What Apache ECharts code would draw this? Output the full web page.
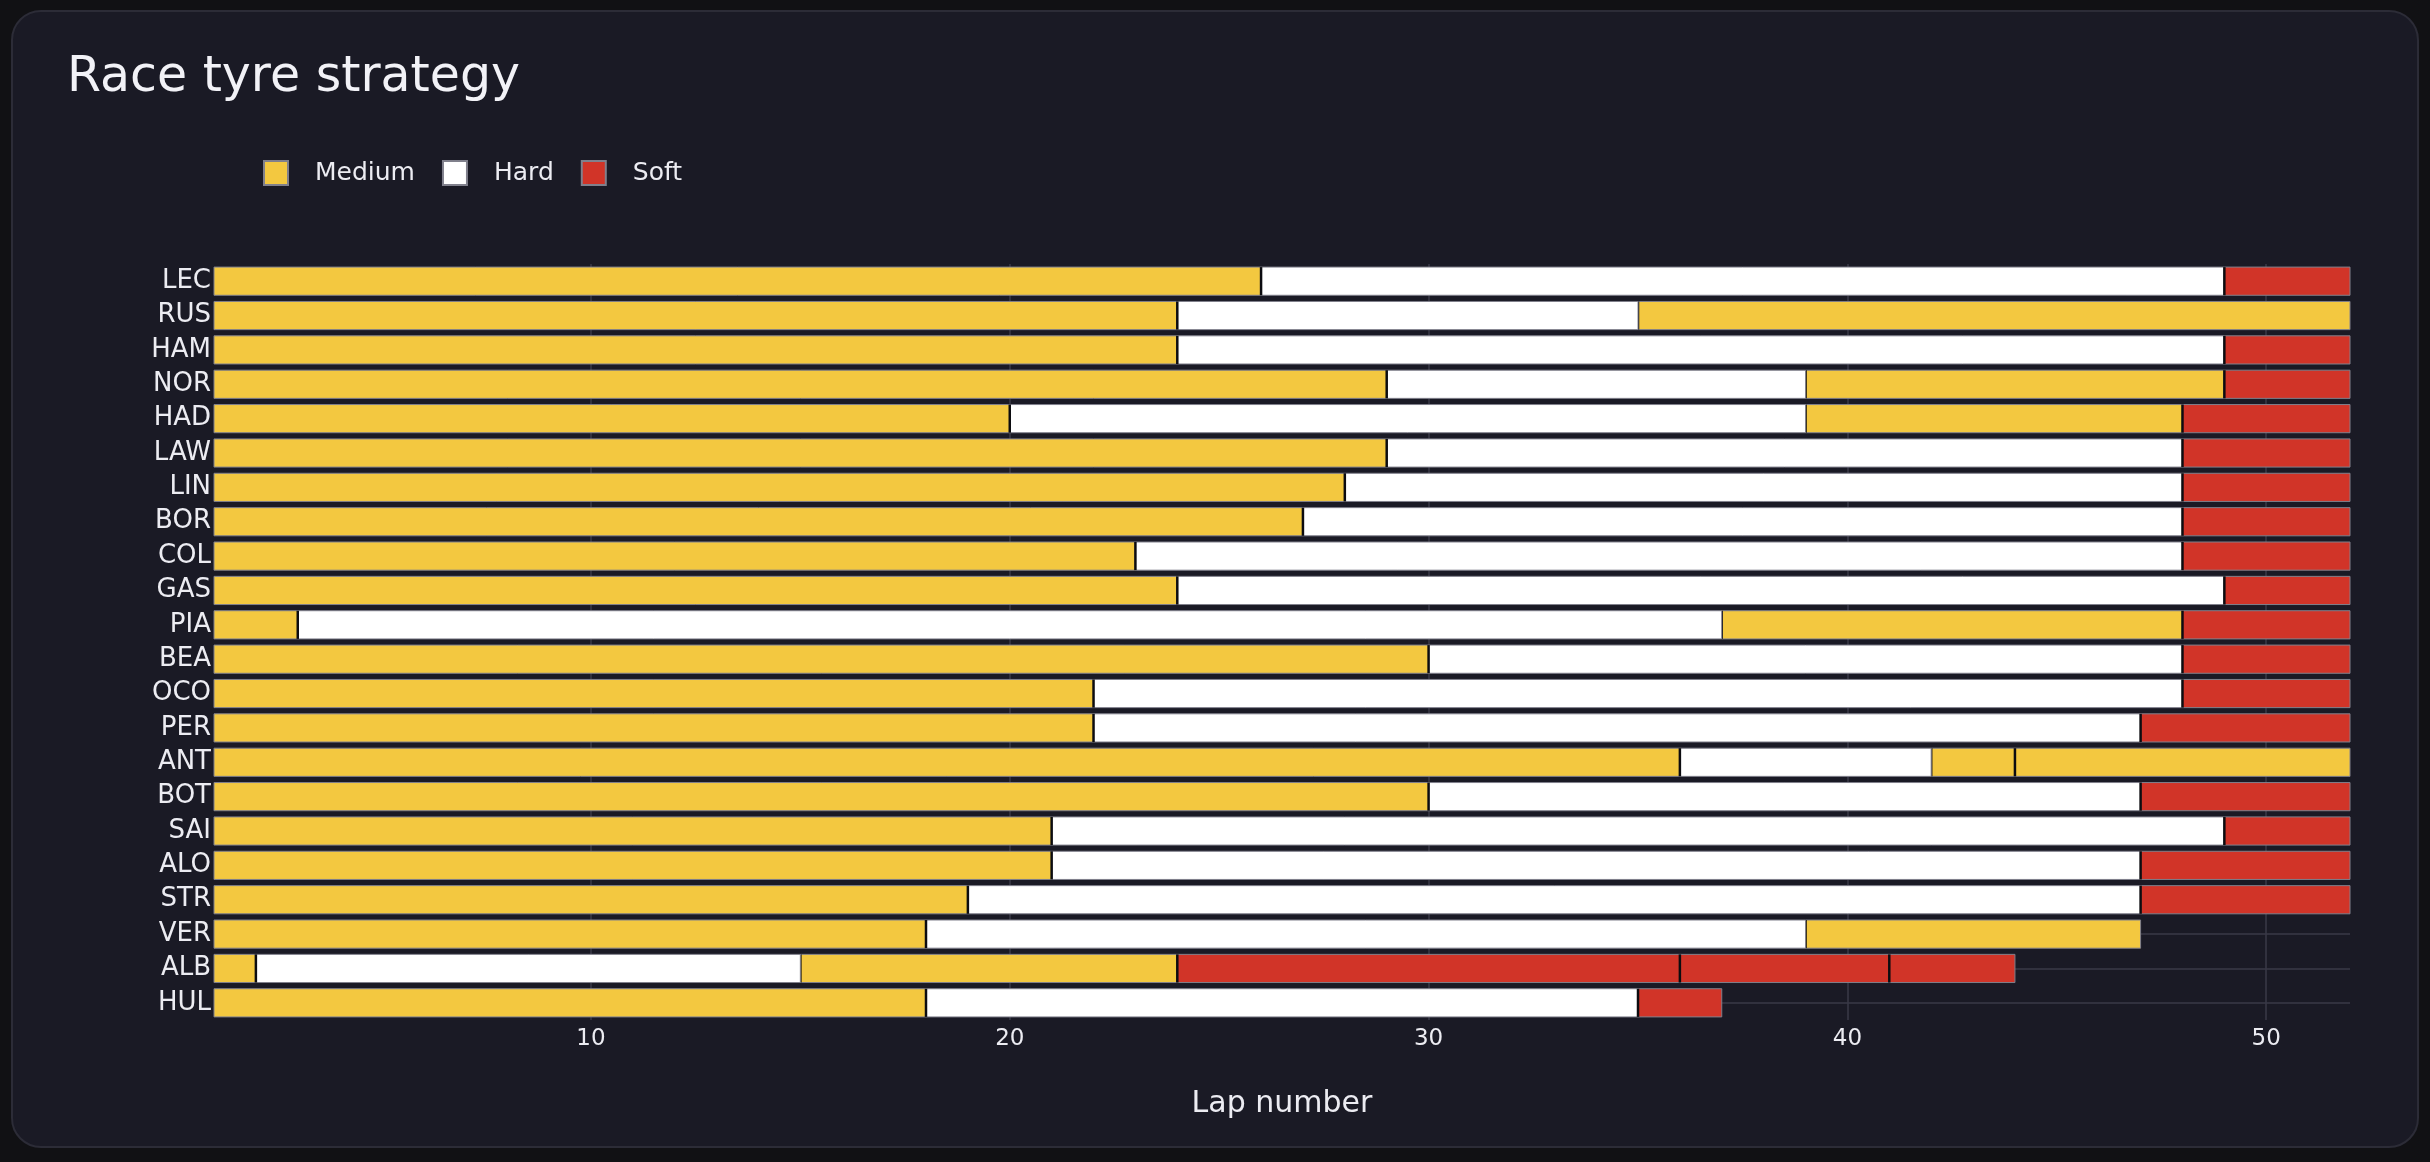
<!DOCTYPE html>
<html>
<head>
<meta charset="utf-8">
<title>Race tyre strategy</title>
<script src="https://cdn.jsdelivr.net/npm/echarts@6/dist/echarts.min.js"></script>
<style>
  html, body { margin: 0; padding: 0; background: #111114; }
  #card {
    position: absolute; left: 11px; top: 10px; width: 2404px; height: 1134px;
    background: #1a1a25; border: 2px solid #2c2c37; border-radius: 30px;
  }
  #chart { position: absolute; left: 0; top: 0; width: 2430px; height: 1162px; }
</style>
</head>
<body>
<div id="card"></div>
<div id="chart"></div>
<script>
// drivers top to bottom (finishing order)
const drivers = ['LEC', 'RUS', 'HAM', 'NOR', 'HAD', 'LAW', 'LIN', 'BOR', 'COL', 'GAS', 'PIA',
  'BEA', 'OCO', 'PER', 'ANT', 'BOT', 'SAI', 'ALO', 'STR', 'VER', 'ALB', 'HUL'];

// compound of each stint, M = medium, H = hard, S = soft
const stintCompounds = [
  ['M', 'H', 'S'],
  ['M', 'H', 'M'],
  ['M', 'H', 'S'],
  ['M', 'H', 'M', 'S'],
  ['M', 'H', 'M', 'S'],
  ['M', 'H', 'S'],
  ['M', 'H', 'S'],
  ['M', 'H', 'S'],
  ['M', 'H', 'S'],
  ['M', 'H', 'S'],
  ['M', 'H', 'M', 'S'],
  ['M', 'H', 'S'],
  ['M', 'H', 'S'],
  ['M', 'H', 'S'],
  ['M', 'H', 'M', 'M'],
  ['M', 'H', 'S'],
  ['M', 'H', 'S'],
  ['M', 'H', 'S'],
  ['M', 'H', 'S'],
  ['M', 'H', 'M'],
  ['M', 'H', 'M', 'S', 'S', 'S'],
  ['M', 'H', 'S']
];

// lap on which each stint ends
const stintEnds = [
  [26, 49, 52],
  [24, 35, 52],
  [24, 49, 52],
  [29, 39, 49, 52],
  [20, 39, 48, 52],
  [29, 48, 52],
  [28, 48, 52],
  [27, 48, 52],
  [23, 48, 52],
  [24, 49, 52],
  [3, 37, 48, 52],
  [30, 48, 52],
  [22, 48, 52],
  [22, 47, 52],
  [36, 42, 44, 52],
  [30, 47, 52],
  [21, 49, 52],
  [21, 47, 52],
  [19, 47, 52],
  [18, 39, 47],
  [2, 15, 24, 36, 41, 44],
  [18, 35, 37]
];

const firstLap = 1;
const lastLap = 52;

const compounds = [
  { code: 'M', name: 'Medium', color: '#f3c840' },
  { code: 'H', name: 'Hard', color: '#ffffff' },
  { code: 'S', name: 'Soft', color: '#d13428' }
];

const textColor = '#ececf2';
const fontFamily = '"DejaVu Sans", sans-serif';

// [driverIndex, startLap, endLap] per compound
function stintsFor(code) {
  const out = [];
  drivers.forEach(function (d, i) {
    let start = firstLap;
    stintCompounds[i].forEach(function (c, j) {
      const end = stintEnds[i][j];
      if (c === code) out.push([i, start, end]);
      start = end;
    });
  });
  return out;
}

function renderStint(params, api) {
  const cat = api.value(0);
  const start = api.value(1);
  const end = api.value(2);
  const p0 = api.coord([start, cat]);
  const p1 = api.coord([end, cat]);
  const h = api.size([0, 1])[1] * 0.82;
  const children = [{
    type: 'rect',
    shape: { x: p0[0], y: p0[1] - h / 2, width: p1[0] - p0[0], height: h },
    style: { fill: api.visual('color'), stroke: '#80808c', lineWidth: 1 }
  }];
  if (start > firstLap) {
    children.push({
      type: 'line',
      shape: { x1: p0[0], y1: p0[1] - h / 2, x2: p0[0], y2: p0[1] + h / 2 },
      style: { stroke: '#0c0c10', lineWidth: 2.5 }
    });
  }
  return { type: 'group', children: children };
}

const chart = echarts.init(document.getElementById('chart'));

chart.setOption({
  backgroundColor: 'transparent',
  animation: false,
  title: {
    text: 'Race tyre strategy',
    left: 62,
    top: 49,
    textStyle: { color: '#f2f2f7', fontSize: 49, fontWeight: 'normal', fontFamily: fontFamily }
  },
  legend: {
    left: 258,
    top: 155,
    icon: 'rect',
    itemWidth: 24,
    itemHeight: 24,
    itemGap: 27,
    textStyle: { color: textColor, fontSize: 25, fontFamily: fontFamily, padding: [0, 0, 0, 22] },
    data: compounds.map(function (c) { return c.name; })
  },
  grid: { left: 214, right: 80, top: 264, bottom: 142 },
  xAxis: {
    type: 'value',
    min: firstLap,
    max: lastLap,
    name: 'Lap number',
    nameLocation: 'middle',
    nameGap: 69,
    nameTextStyle: { color: textColor, fontSize: 30, fontFamily: fontFamily },
    axisLine: { show: false },
    axisTick: { show: false },
    axisLabel: {
      color: textColor, fontSize: 23, fontFamily: fontFamily, margin: 8,
      showMinLabel: false, showMaxLabel: false
    },
    splitLine: {
      show: true, showMinLine: false, showMaxLine: false,
      lineStyle: { color: '#3a3a47', width: 1.5 }
    }
  },
  yAxis: {
    type: 'category',
    inverse: true,
    data: drivers,
    axisLine: { show: false },
    axisTick: { show: false },
    axisLabel: { color: textColor, fontSize: 26, fontFamily: fontFamily, margin: 3 },
    splitLine: { show: true, alignWithLabel: true, lineStyle: { color: '#3a3a47', width: 1.5 } }
  },
  series: compounds.map(function (c) {
    return {
      name: c.name,
      type: 'custom',
      renderItem: renderStint,
      itemStyle: { color: c.color, borderColor: '#80808c', borderWidth: 1 },
      encode: { x: [1, 2], y: 0 },
      data: stintsFor(c.code)
    };
  })
});
</script>
</body>
</html>
